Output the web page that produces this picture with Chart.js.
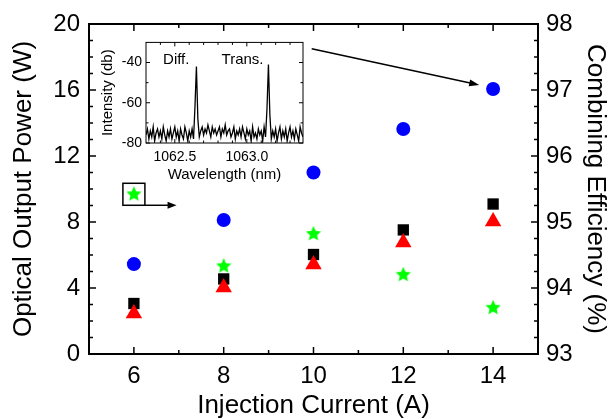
<!DOCTYPE html>
<html>
<head>
<meta charset="utf-8">
<script src="https://cdn.jsdelivr.net/npm/chart.js@4.4.1/dist/chart.umd.min.js"></script>
<style>
  html, body { margin: 0; padding: 0; background: #fff; }
  #wrap { position: relative; width: 608px; height: 419px; overflow: hidden; }
  #main { position: absolute; left: 0; top: 0; }
  #inset { position: absolute; left: 95px; top: 30px; }
</style>
</head>
<body>
<div id="wrap">
  <canvas id="main" width="608" height="419"></canvas>
  <canvas id="inset" width="215" height="155"></canvas>
</div>
<script>
// main plot: injection current (A) vs power (W) / combining efficiency (%)
var current = [6, 8, 10, 12, 14];
var powerCircle = [5.45, 8.12, 11.0, 13.64, 16.06];
var powerSquare = [3.06, 4.55, 6.03, 7.52, 9.09];
var powerTriangle = [2.45, 4.03, 5.42, 6.76, 8.03];
var efficiency = [95.42, 94.33, 94.82, 94.20, 93.70];

var xTicks = [6, 8, 10, 12, 14];
var xMinor = [7, 9, 11, 13];
var powerTicks = [0, 4, 8, 12, 16, 20];
var powerMinor = [1, 2, 3, 5, 6, 7, 9, 10, 11, 13, 14, 15, 17, 18, 19];
var effTicks = [93, 94, 95, 96, 97, 98];
var effMinor = [93.25, 93.5, 93.75, 94.25, 94.5, 94.75, 95.25, 95.5, 95.75,
  96.25, 96.5, 96.75, 97.25, 97.5, 97.75];

// inset: spectrum
var wavelength = [
  1062.30, 1062.31, 1062.32, 1062.33, 1062.34, 1062.35, 1062.36, 1062.37, 1062.38, 1062.39,
  1062.40, 1062.41, 1062.42, 1062.43, 1062.44, 1062.45, 1062.46, 1062.47, 1062.48, 1062.49,
  1062.50, 1062.51, 1062.52, 1062.53, 1062.54, 1062.55, 1062.56, 1062.57, 1062.58, 1062.59,
  1062.60, 1062.61, 1062.62, 1062.63, 1062.64, 1062.65, 1062.66, 1062.67, 1062.68, 1062.69,
  1062.70, 1062.71, 1062.72, 1062.73, 1062.74, 1062.75, 1062.76, 1062.77, 1062.78, 1062.79,
  1062.80, 1062.81, 1062.82, 1062.83, 1062.84, 1062.85, 1062.86, 1062.87, 1062.88, 1062.89,
  1062.90, 1062.91, 1062.92, 1062.93, 1062.94, 1062.95, 1062.96, 1062.97, 1062.98, 1062.99,
  1063.00, 1063.01, 1063.02, 1063.03, 1063.04, 1063.05, 1063.06, 1063.07, 1063.08, 1063.09,
  1063.10, 1063.11, 1063.12, 1063.13, 1063.14, 1063.15, 1063.16, 1063.17, 1063.18, 1063.19,
  1063.20, 1063.21, 1063.22, 1063.23, 1063.24, 1063.25, 1063.26, 1063.27, 1063.28, 1063.29,
  1063.30, 1063.31, 1063.32, 1063.33, 1063.34, 1063.35, 1063.36, 1063.37, 1063.38, 1063.39
];
var intensity = [
  -76, -73, -78, -74, -77, -72, -79, -75, -73, -77,
  -74, -78, -72, -76, -79, -74, -77, -73, -78, -75,
  -72, -77, -74, -79, -73, -76, -78, -72, -75, -79,
  -74, -77, -73, -78, -62, -42, -68, -77, -74, -72,
  -76, -73, -75, -71, -74, -77, -72, -75, -73, -76,
  -74, -72, -77, -73, -75, -71, -76, -74, -73, -77,
  -75, -72, -78, -74, -76, -73, -77, -72, -75, -78,
  -73, -76, -74, -79, -72, -77, -75, -78, -73, -76,
  -74, -79, -72, -77, -63, -41, -66, -78, -74, -77,
  -73, -79, -75, -72, -78, -74, -77, -73, -79, -75,
  -72, -77, -74, -78, -73, -76, -79, -72, -75, -77
];
var waveTicks = [1062.5, 1063.0];
var waveMinor = [1062.4, 1062.6, 1062.7, 1062.8, 1062.9, 1063.1, 1063.2, 1063.3];
var dbTicks = [-80, -60, -40];
var dbMinor = [-70, -50];
var peakNames = ['Diff.', 'Trans.'];
var peakNameX = [1062.51, 1062.97];
var peakNameY = -38.6;

Chart.defaults.font.family = '"Liberation Sans", Arial, sans-serif';
Chart.defaults.color = '#000';

function fixedTicks(values) {
  return function (scale) {
    scale.ticks = values.map(function (v) { return { value: v }; });
  };
}

// ticks pointing into the plot area
function drawInTicks(chart, list) {
  var ctx = chart.ctx;
  var area = chart.chartArea;
  ctx.save();
  ctx.strokeStyle = '#000';
  list.forEach(function (t) {
    var scale = chart.scales[t.scale];
    ctx.lineWidth = t.width;
    t.values.forEach(function (v) {
      var p = scale.getPixelForValue(v);
      ctx.beginPath();
      if (t.side === 'left') { ctx.moveTo(area.left, p); ctx.lineTo(area.left + t.len, p); }
      if (t.side === 'right') { ctx.moveTo(area.right, p); ctx.lineTo(area.right - t.len, p); }
      if (t.side === 'bottom') { ctx.moveTo(p, area.bottom); ctx.lineTo(p, area.bottom - t.len); }
      if (t.side === 'top') { ctx.moveTo(p, area.top); ctx.lineTo(p, area.top + t.len); }
      ctx.stroke();
    });
  });
  ctx.restore();
}

function arrow(ctx, x1, y1, x2, y2, head, half) {
  var a = Math.atan2(y2 - y1, x2 - x1);
  ctx.beginPath();
  ctx.moveTo(x1, y1);
  ctx.lineTo(x2 - Math.cos(a) * head * 0.8, y2 - Math.sin(a) * head * 0.8);
  ctx.stroke();
  ctx.beginPath();
  ctx.moveTo(x2, y2);
  ctx.lineTo(x2 - Math.cos(a) * head - Math.sin(a) * half, y2 - Math.sin(a) * head + Math.cos(a) * half);
  ctx.lineTo(x2 - Math.cos(a) * head + Math.sin(a) * half, y2 - Math.sin(a) * head - Math.cos(a) * half);
  ctx.closePath();
  ctx.fill();
}

function makeStar(size, color) {
  var c = document.createElement('canvas');
  c.width = size;
  c.height = size;
  var g = c.getContext('2d');
  var r = size / 2;
  g.beginPath();
  for (var k = 0; k < 10; k++) {
    var ang = -Math.PI / 2 + k * Math.PI / 5;
    var rr = k % 2 === 0 ? r : r * 0.47;
    g.lineTo(r + Math.cos(ang) * rr, r + Math.sin(ang) * rr);
  }
  g.closePath();
  g.fillStyle = color;
  g.fill();
  return c;
}

function points(xs, ys) {
  return xs.map(function (x, i) { return { x: x, y: ys[i] }; });
}

var titleFont = { size: 26, lineHeight: 1 };
var tickFont = { size: 24 };

var mainTicks = {
  id: 'mainTicks',
  afterDatasetsDraw: function (chart) {
    drawInTicks(chart, [
      { scale: 'x', side: 'bottom', values: xTicks, len: 7, width: 1.5 },
      { scale: 'x', side: 'bottom', values: xMinor, len: 4, width: 1.5 },
      { scale: 'x', side: 'top', values: xTicks, len: 7, width: 1.5 },
      { scale: 'x', side: 'top', values: xMinor, len: 4, width: 1.5 },
      { scale: 'y', side: 'left', values: powerTicks, len: 7, width: 1.5 },
      { scale: 'y', side: 'left', values: powerMinor, len: 4, width: 1.5 },
      { scale: 'y2', side: 'right', values: effTicks, len: 7, width: 1.5 },
      { scale: 'y2', side: 'right', values: effMinor, len: 4, width: 1.5 }
    ]);

    // box around the first star and the two arrows
    var ctx = chart.ctx;
    var sx = chart.scales.x, sy = chart.scales.y, sy2 = chart.scales.y2;
    var cx = sx.getPixelForValue(current[0]);
    var cy = sy2.getPixelForValue(efficiency[0]);
    ctx.save();
    ctx.strokeStyle = '#000';
    ctx.fillStyle = '#000';
    ctx.lineWidth = 1.5;
    ctx.strokeRect(cx - 11, cy - 11, 22, 22);
    arrow(ctx, cx + 11, cy + 11, sx.getPixelForValue(6.95), cy + 11, 9, 3.5);
    arrow(ctx, sx.getPixelForValue(9.96), sy.getPixelForValue(18.5),
      sx.getPixelForValue(13.69), sy.getPixelForValue(16.3), 10, 3.5);
    ctx.restore();
  }
};

new Chart(document.getElementById('main'), {
  type: 'scatter',
  data: {
    datasets: [
      {
        label: 'circle',
        data: points(current, powerCircle),
        yAxisID: 'y',
        pointStyle: 'circle',
        pointRadius: 7,
        backgroundColor: '#0000ff',
        borderWidth: 0
      },
      {
        label: 'triangle',
        data: points(current, powerTriangle),
        yAxisID: 'y',
        pointStyle: 'triangle',
        pointRadius: 9.5,
        backgroundColor: '#ff0000',
        borderWidth: 0
      },
      {
        label: 'square',
        data: points(current, powerSquare),
        yAxisID: 'y',
        pointStyle: 'rect',
        pointRadius: 8,
        backgroundColor: '#000000',
        borderWidth: 0
      },
      {
        label: 'efficiency',
        data: points(current, efficiency),
        yAxisID: 'y2',
        pointStyle: makeStar(16, '#00ff00'),
        pointRadius: 8,
        backgroundColor: '#00ff00',
        borderWidth: 0
      }
    ]
  },
  options: {
    responsive: false,
    animation: false,
    layout: { padding: 0 },
    scales: {
      x: {
        type: 'linear',
        position: 'bottom',
        min: 5,
        max: 15,
        afterBuildTicks: fixedTicks(xTicks),
        afterFit: function (s) { s.height = 65; },
        grid: { display: false, drawTicks: false },
        border: { display: true, color: '#000', width: 2 },
        ticks: { padding: 8, font: tickFont, autoSkip: false, maxRotation: 0,
          callback: function (v) { return String(v); } },
        title: { display: true, text: 'Injection Current (A)', font: titleFont,
          padding: { top: 0, bottom: 0 } }
      },
      xTop: {
        type: 'linear',
        position: 'top',
        min: 5,
        max: 15,
        afterFit: function (s) { s.height = 24; },
        grid: { display: false, drawTicks: false },
        border: { display: true, color: '#000', width: 2 },
        ticks: { display: false }
      },
      y: {
        type: 'linear',
        position: 'left',
        min: 0,
        max: 20,
        afterBuildTicks: fixedTicks(powerTicks),
        afterFit: function (s) { s.width = 89; },
        grid: { display: false, drawTicks: false },
        border: { display: true, color: '#000', width: 2 },
        ticks: { padding: 9, font: tickFont, autoSkip: false,
          callback: function (v) { return String(v); } },
        title: { display: true, text: 'Optical Output Power (W)', font: titleFont,
          padding: { top: 11, bottom: 0 } }
      },
      y2: {
        type: 'linear',
        position: 'right',
        min: 93,
        max: 98,
        afterBuildTicks: fixedTicks(effTicks),
        afterFit: function (s) { s.width = 70; },
        grid: { display: false, drawTicks: false },
        border: { display: true, color: '#000', width: 2 },
        ticks: { padding: 8, font: tickFont, autoSkip: false,
          callback: function (v) { return String(v); } },
        title: { display: true, text: 'Combining Efficiency (%)', font: titleFont,
          padding: { top: 0, bottom: 0 } }
      }
    },
    plugins: {
      legend: { display: false },
      tooltip: { enabled: false }
    }
  },
  plugins: [mainTicks]
});

var insetDecor = {
  id: 'insetDecor',
  afterDatasetsDraw: function (chart) {
    var ctx = chart.ctx;
    var area = chart.chartArea;
    ctx.save();
    ctx.strokeStyle = '#000';
    ctx.lineWidth = 1;
    ctx.strokeRect(area.left, area.top, area.right - area.left, area.bottom - area.top);
    ctx.restore();
    drawInTicks(chart, [
      { scale: 'x', side: 'bottom', values: waveTicks, len: 4, width: 1 },
      { scale: 'x', side: 'bottom', values: waveMinor, len: 2.5, width: 1 },
      { scale: 'x', side: 'top', values: waveTicks, len: 4, width: 1 },
      { scale: 'x', side: 'top', values: waveMinor, len: 2.5, width: 1 },
      { scale: 'y', side: 'left', values: dbTicks, len: 4, width: 1 },
      { scale: 'y', side: 'left', values: dbMinor, len: 2.5, width: 1 },
      { scale: 'y', side: 'right', values: dbTicks, len: 4, width: 1 },
      { scale: 'y', side: 'right', values: dbMinor, len: 2.5, width: 1 }
    ]);
    ctx.save();
    ctx.fillStyle = '#000';
    ctx.font = '15px "Liberation Sans", Arial, sans-serif';
    ctx.textAlign = 'center';
    ctx.textBaseline = 'middle';
    peakNames.forEach(function (name, i) {
      ctx.fillText(name, chart.scales.x.getPixelForValue(peakNameX[i]),
        chart.scales.y.getPixelForValue(peakNameY));
    });
    ctx.restore();
  }
};

new Chart(document.getElementById('inset'), {
  type: 'line',
  data: {
    datasets: [{
      data: points(wavelength, intensity),
      borderColor: '#000',
      borderWidth: 1.3,
      pointRadius: 0,
      tension: 0
    }]
  },
  options: {
    responsive: false,
    animation: false,
    layout: { padding: { top: 4, right: 7, left: 0, bottom: 0 } },
    scales: {
      x: {
        type: 'linear',
        min: 1062.30,
        max: 1063.39,
        afterBuildTicks: fixedTicks(waveTicks),
        afterFit: function (s) { s.height = 42; },
        grid: { display: false, drawTicks: false },
        border: { display: false },
        ticks: { padding: 6, font: { size: 14 }, autoSkip: false, maxRotation: 0,
          callback: function (v) { return v.toFixed(1); } },
        title: { display: true, text: 'Wavelength (nm)', font: { size: 15, lineHeight: 1 },
          padding: { top: 0, bottom: 2.5 } }
      },
      y: {
        type: 'linear',
        min: -80,
        max: -30,
        afterBuildTicks: fixedTicks(dbTicks),
        afterFit: function (s) { s.width = 51; },
        grid: { display: false, drawTicks: false },
        border: { display: false },
        ticks: { padding: 4, font: { size: 14 }, autoSkip: false,
          callback: function (v) { return String(v); } },
        title: { display: true, text: 'Intensity (db)', font: { size: 15, lineHeight: 1 },
          padding: { top: 5.5, bottom: 0 } }
      }
    },
    plugins: {
      legend: { display: false },
      tooltip: { enabled: false }
    }
  },
  plugins: [insetDecor]
});
</script>
</body>
</html>
